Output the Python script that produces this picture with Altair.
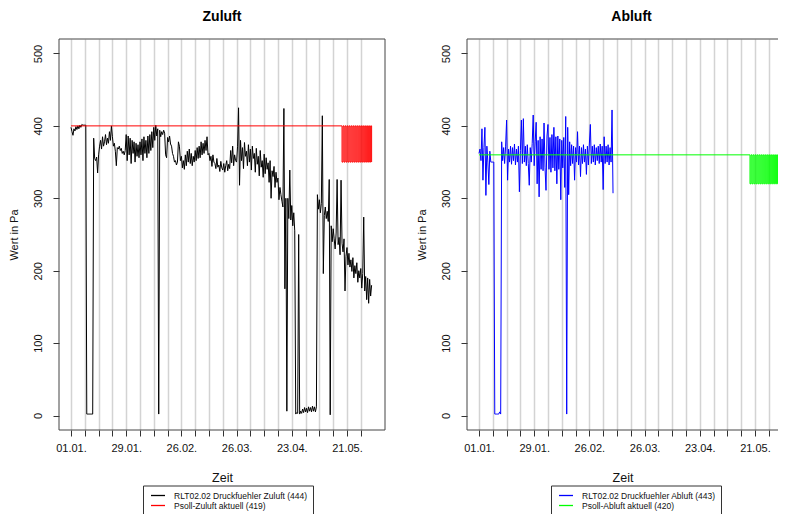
import altair as alt
import pandas as pd

START = "2019-01-01T00:00:00"

# Druckfuehler Zuluft, one reading every 12 h from 01.01. (values in Pa)
zuluft_values = [
    398, 392, 387, 396, 393, 399, 395, 400, 396, 401, 398, 402, 401, 401, 401, 401,
    2, 2, 2, 2, 2, 2, 2,
    383, 355, 352, 357, 335, 360, 372,
    380, 368, 385, 372, 378, 388, 374, 383, 376, 392, 380, 400,
    385, 372, 376, 365, 345, 370, 368, 372, 366, 369, 362, 365, 360, 366,
    388, 352, 386, 360, 383, 348, 380, 362, 378, 350, 376, 358, 374, 356,
    378, 360, 382, 352, 385, 362, 380, 356, 386, 362, 388, 366, 392, 370,
    398, 380, 401, 386, 396, 2, 394, 385,
    392, 388, 394, 390, 360, 356, 384, 378, 386, 375, 372, 362, 358, 350,
    352, 346, 350, 378, 372, 352,
    358, 342, 352, 340, 360, 345, 365, 350, 368, 348, 362, 345, 358, 350,
    366, 352, 370, 355,
    372, 356, 378, 360, 376, 362, 380, 366, 385, 360,
    362, 352, 358, 344, 360, 350, 348, 341, 355, 343, 346, 337, 351, 342,
    339, 348, 336, 345, 352, 338, 347, 341, 366, 349, 372, 345, 360, 352,
    350, 372, 425, 318,
    380, 352, 370, 341, 377, 358, 365, 345, 374, 350, 368,
    339, 372, 355, 362, 336, 369, 347, 358, 331, 366, 343, 352, 329, 361,
    334, 356, 340, 349, 322, 352, 300, 338, 330, 344, 315, 336, 322, 328,
    298, 315, 305, 296, 288,
    424, 175, 300, 6, 300, 272, 339, 270, 290, 262, 280, 255,
    2, 4, 3, 250, 2, 6, 3, 9, 4, 11, 5, 10, 4, 12, 6, 11, 5, 13, 6, 12, 5, 12,
    305, 285, 298, 280, 293, 414, 196, 276, 288, 272, 282, 268, 326, 1, 262,
    240, 258, 244, 230, 252, 326, 236, 246, 222, 325, 238, 226, 244, 172,
    220, 232, 208,
    224, 205, 215, 199, 218, 190, 207, 196, 211, 184, 200, 190, 203, 176,
    196, 274, 172, 192, 160, 190, 155, 188, 165, 180,
]

# Druckfuehler Abluft, one reading every 12 h from 01.01.
abluft_values = [
    362, 368, 352, 396, 325, 370, 398, 304, 372, 350, 319, 365, 350, 350, 350, 350,
    2, 2, 2, 2, 2, 5, 2,
    378, 352, 370, 348, 372, 408, 325, 368, 350, 372,
    347, 370, 352, 375, 346, 368, 350, 372, 309, 366,
    408, 348, 410, 350, 372, 345, 374, 348, 318, 370,
    350, 376, 415, 345, 378, 405, 320, 380, 302, 385,
    340, 382, 338, 404, 342, 311, 386, 402, 340, 384,
    336, 388, 342, 398, 338, 385, 320, 386, 340, 382,
    298, 380, 342, 384, 315, 413, 2, 398, 305, 378,
    345, 374, 348, 372, 325, 370, 350, 392, 346, 372,
    330, 370, 348, 374, 350, 368, 333, 372, 346, 375,
    402, 348, 372, 350, 374, 346, 370, 352, 372, 348,
    375, 350, 372, 312, 385, 348, 372, 350, 374, 346,
    370, 350, 422, 307,
]

# Setpoints: change points (days after 01.01.) and values
psoll_days = [0, 137.5, 138, 138.5, 139, 139.5, 140, 140.5, 141, 141.5, 142,
              142.5, 143, 143.5, 144, 144.5, 145, 145.5, 146, 146.5, 147,
              147.5, 148, 148.5, 149, 149.5, 150, 150.5, 151, 151.5, 152, 152.5]
psoll_zu_values = [400, 350, 400, 350, 400, 350, 400, 350, 400, 350, 400,
                   350, 400, 350, 400, 350, 400, 350, 400, 350, 400,
                   350, 400, 350, 400, 350, 400, 350, 400, 350, 400, 350]
psoll_ab_values = [360, 320, 360, 320, 360, 320, 360, 320, 360, 320, 360,
                   320, 360, 320, 360, 320, 360, 320, 360, 320, 360,
                   320, 360, 320, 360, 320, 360, 320, 360, 320, 360, 320]

zu_labels = ["RLT02.02 Druckfuehler Zuluft (444)", "Psoll-Zuluft aktuell (419)"]
ab_labels = ["RLT02.02 Druckfuehler Abluft (443)", "Psoll-Abluft aktuell (420)"]
zu_colors = ["#000000", "#FF0000"]
ab_colors = ["#0000FF", "#00FF00"]

tick_labels = ["01.01.", "29.01.", "26.02.", "26.03.", "23.04.", "21.05."]
y_ticks = [0, 100, 200, 300, 400, 500]
week_ticks = pd.date_range(START, periods=22, freq="7D")

FONT = "Liberation Sans"
H = 391
x_start = alt.DateTime(year=2018, month=12, date=25, hours=21, minutes=50)
x_end_left = alt.DateTime(year=2019, month=6, date=9, hours=7)
x_end_right = alt.DateTime(year=2019, month=6, date=1, hours=17)

label_list = "[" + ",".join("'%s'" % s for s in tick_labels) + "]"
x_axis = alt.Axis(
    values=[alt.DateTime(year=t.year, month=t.month, date=t.day) for t in week_ticks],
    labelExpr="indexof(%s, timeFormat(datum.value, '%%d.%%m.')) >= 0 ? timeFormat(datum.value, '%%d.%%m.') : ''" % label_list,
    grid=True, gridColor="#D3D3D3", gridWidth=1.5,
    tickSize=6, tickColor="#333333", domain=False,
    labelFontSize=11, labelPadding=6.5, labelOverlap=False, labelFlush=False,
    labelColor="#111111",
    title="Zeit", titleFontSize=12.5, titleFontWeight="normal", titlePadding=18,
    titleColor="#111111",
)
y_axis = alt.Axis(
    values=y_ticks, labelAngle=270, labelAlign="center", labelBaseline="bottom",
    tickSize=6, tickColor="#333333", domain=False, grid=False,
    labelFontSize=11, labelPadding=10, labelColor="#111111",
    title="Wert in Pa", titleFontSize=11, titleFontWeight="normal",
    titlePadding=13, titleColor="#111111",
)


def panel(title, values, psoll_values, labels, colors, width, x_end, right_side, title_dx):
    df = pd.DataFrame({
        "t": pd.date_range(START, periods=len(values), freq="12h"),
        "v": values,
        "s": labels[0],
    })
    dp = pd.DataFrame({
        "t": pd.Timestamp(START) + pd.to_timedelta(psoll_days, unit="D"),
        "v": psoll_values,
        "s": labels[1],
    })
    x = alt.X("t:T", scale=alt.Scale(domain=[x_start, x_end]), axis=x_axis)
    y = alt.Y("v:Q", scale=alt.Scale(domain=[-20, 520], nice=False, zero=False), axis=y_axis)
    color = alt.Color(
        "s:N",
        scale=alt.Scale(domain=labels, range=colors),
        legend=alt.Legend(
            orient="none", legendX=84, legendY=446.5, direction="vertical",
            title=None, strokeColor="#333333", fillColor="white", padding=5,
            symbolOffset=5, symbolType="M-1.75,0H1.75", symbolSize=64,
            symbolStrokeWidth=1.3, labelFontSize=8.5, labelOffset=11, rowPadding=-2,
            labelColor="#111111", labelFont=FONT,
        ),
    )
    l1 = alt.Chart(df).mark_line(strokeWidth=1, clip=True).encode(x=x, y=y, color=color)
    l2 = alt.Chart(dp).mark_line(strokeWidth=1, interpolate="step-after", clip=True).encode(
        x=x, y=y, color=color)

    frame_src = alt.Chart(pd.DataFrame({"f": [0]}))
    frame = [
        frame_src.mark_rule(color="#444444", strokeWidth=1).encode(
            x=alt.value(0), x2=alt.value(width), y=alt.value(0)),
        frame_src.mark_rule(color="#444444", strokeWidth=1).encode(
            x=alt.value(0), x2=alt.value(width), y=alt.value(H)),
        frame_src.mark_rule(color="#444444", strokeWidth=1).encode(
            x=alt.value(0), y=alt.value(0), y2=alt.value(H)),
    ]
    if right_side:
        frame.append(frame_src.mark_rule(color="#444444", strokeWidth=1).encode(
            x=alt.value(width), y=alt.value(0), y2=alt.value(H)))

    return alt.layer(l1, l2, *frame).properties(
        width=width, height=H,
        title=alt.TitleParams(title, fontSize=14, fontWeight="bold", anchor="middle",
                              offset=15, dx=title_dx, font=FONT, color="#000000"),
    )


chart = alt.hconcat(
    panel("Zuluft", zuluft_values, psoll_zu_values, zu_labels, zu_colors, 326, x_end_left,
          True, 0),
    panel("Abluft", abluft_values, psoll_ab_values, ab_labels, ab_colors, 311, x_end_right,
          False, 9),
    spacing=30,
    padding={"left": 0, "top": 1, "right": 0, "bottom": 0},
).resolve_scale(color="independent").configure(
    font=FONT,
).configure_view(strokeWidth=0)

chart.save("out.html", embed_options={"renderer": "svg", "actions": False})
